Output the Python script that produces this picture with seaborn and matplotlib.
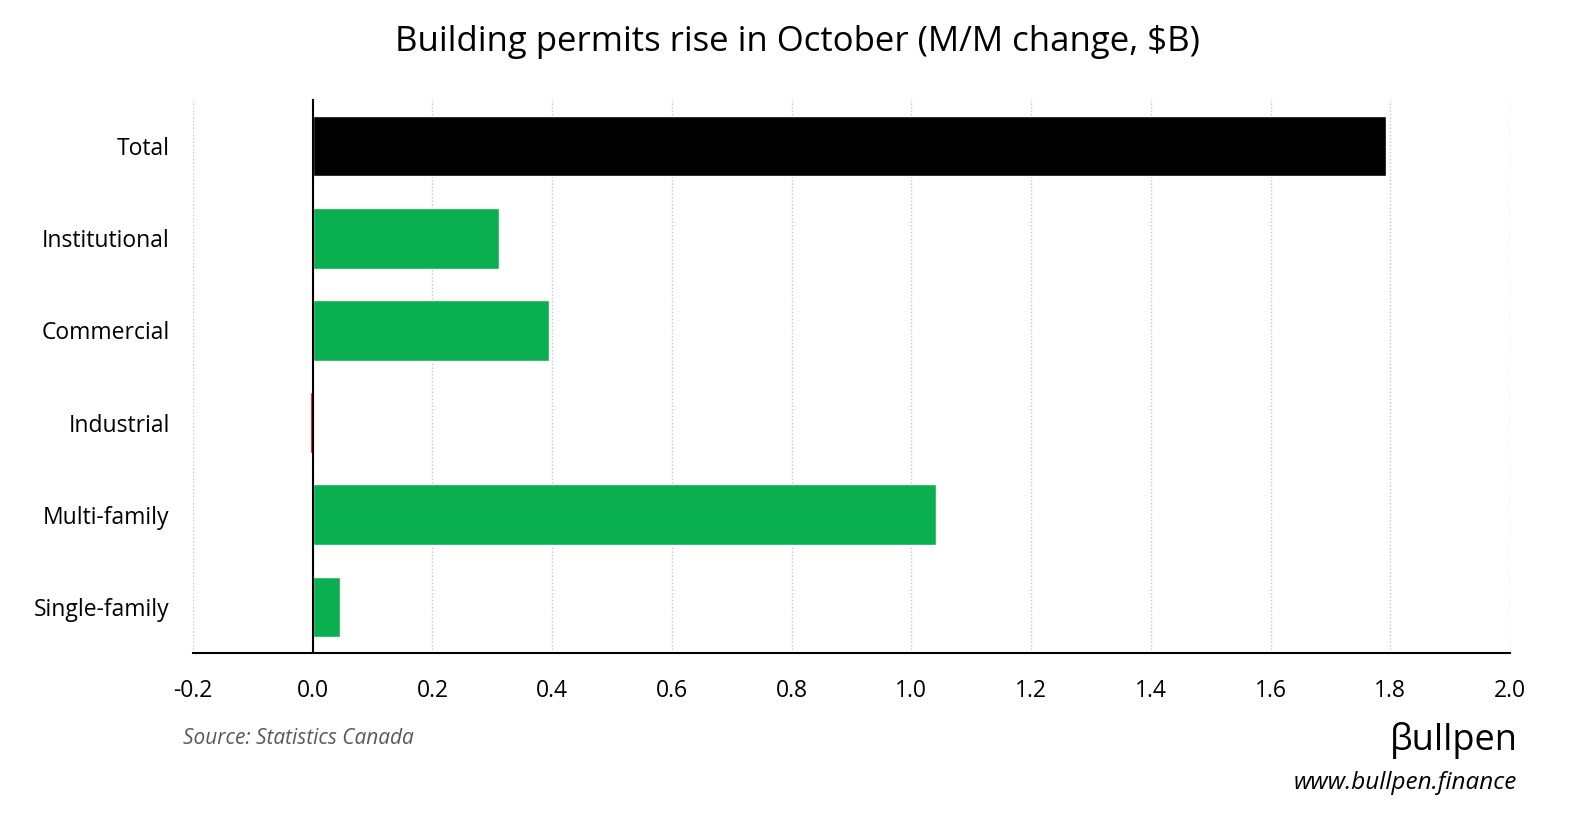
import pandas as pd
import matplotlib.pyplot as plt
import seaborn as sns

categories = ['Total', 'Institutional', 'Commercial', 'Industrial', 'Multi-family', 'Single-family']
changes = [1.793, 0.311, 0.395, -0.005, 1.041, 0.046]
bar_colors = ['#000000', '#0AAF50', '#0AAF50', '#FF0000', '#0AAF50', '#0AAF50']
x_ticks = [-0.2, 0.0, 0.2, 0.4, 0.6, 0.8, 1.0, 1.2, 1.4, 1.6, 1.8, 2.0]

df = pd.DataFrame({'category': categories, 'change': changes})

sns.set_theme(style="white")
plt.rcParams['font.family'] = ['Open Sans', 'DejaVu Sans']
plt.rcParams['text.color'] = 'black'
plt.rcParams['xtick.color'] = 'black'
plt.rcParams['ytick.color'] = 'black'

fig = plt.figure(figsize=(15.94, 8.34), dpi=100)
ax = fig.add_axes([0.1211, 0.217, 0.8262, 0.6631])

sns.barplot(data=df, x='change', y='category', hue='category', palette=bar_colors,
            width=0.66, legend=False, saturation=1, ax=ax)

ax.set_xlim(-0.2, 2.0)
ax.set_ylim(len(categories) - 0.5, -0.5)
ax.set_xticks(x_ticks)
ax.set_xticklabels([f'{t:.1f}' for t in x_ticks], fontsize=16.5)
ax.set_xlabel('')
ax.set_ylabel('')

# dotted vertical grid
for t in x_ticks:
    ax.axvline(t, color='#c8c8c8', linestyle=(0, (1, 1.5)), linewidth=1, zorder=0)

# y axis sits at zero, labels pushed out to the left
ax.spines['left'].set_position(('data', 0))
ax.spines['top'].set_visible(False)
ax.spines['right'].set_visible(False)
for s in ['left', 'bottom']:
    ax.spines[s].set_color('black')
    ax.spines[s].set_linewidth(1.5)
    ax.spines[s].set_zorder(5)

ax.set_yticks(range(len(categories)))
ax.set_yticklabels(categories, fontsize=16.5)
ax.set_yticks([i - 0.5 for i in range(len(categories) + 1)], minor=True)
ax.tick_params(axis='y', which='major', length=0, pad=103)
ax.tick_params(axis='y', which='minor', length=7, width=1.3, color='black', direction='out')
ax.tick_params(axis='x', length=8, width=1.3, color='black', direction='out', pad=11)

fig.text(0.5, 0.95, 'Building permits rise in October (M/M change, $B)',
         ha='center', va='center', fontsize=25)
fig.text(0.115, 0.115, 'Source: Statistics Canada', ha='left', va='center',
         fontsize=15, style='italic', color='#595959')
fig.text(0.952, 0.112, 'βullpen', ha='right', va='center', fontsize=26, color='black')
fig.text(0.952, 0.061, 'www.bullpen.finance', ha='right', va='center',
         fontsize=17.5, style='italic', color='black')

fig.savefig('out.png', dpi=100)
